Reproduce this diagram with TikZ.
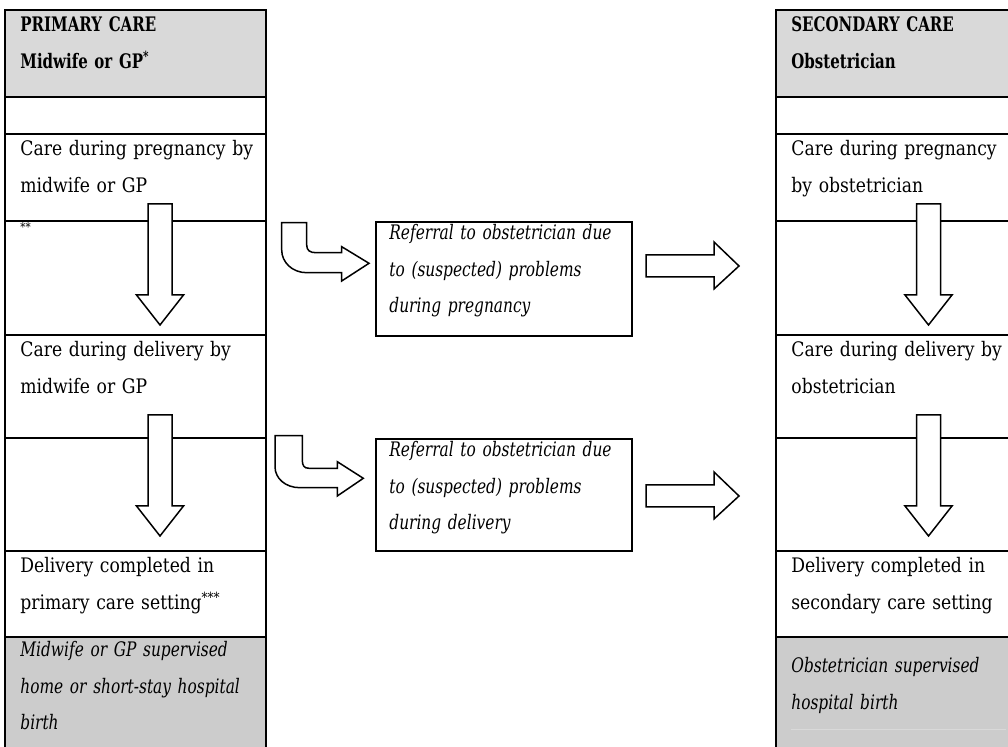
\documentclass[tikz,border=0pt]{standalone}
\usepackage{fontspec}
\setmainfont[FakeStretch=0.86]{DejaVu Serif}
\newfontfamily\headfont[FakeStretch=0.75]{DejaVu Serif}
\newfontfamily\notefont[FakeStretch=0.77]{DejaVu Serif}
\usetikzlibrary{positioning,calc}
\definecolor{headgray}{HTML}{D9D9D9}
\definecolor{footgray}{HTML}{CCCCCC}

\begin{document}
\begin{tikzpicture}[x=0.5pt,y=-0.5pt,
  cell/.style={anchor=base west, inner sep=0pt, text width=125pt, align=left, font=\fontsize{10}{18.5}\selectfont},
  headcell/.style={cell, font=\headfont\bfseries\fontsize{10}{18.5}\selectfont},
  notecell/.style={cell, font=\notefont\itshape\fontsize{10}{18.25}\selectfont},
  rule/.style={line width=1pt, line cap=rect},
  refbox/.style={draw, line width=1pt, inner sep=0pt, anchor=north west, minimum width=128pt},
  blockarrow/.style={draw, fill=white, line width=0.75pt, line join=miter}]
\useasboundingbox (0,0) rectangle (1008,747);
\clip (0,0) rectangle (1008,747);

%Tables
\fill[headgray] (5,10) rectangle (265.7,97);
\fill[footgray] (5,637) rectangle (265.7,760);
\fill[headgray] (776,10) rectangle (1020,97);
\fill[footgray] (776,637) rectangle (1020,760);
\draw[headgray, line width=0.4pt] (791,729) -- (1006,729);
\foreach \ry in {10,97,134,221,335,438,551,637} {
  \draw[rule] (5,\ry) -- (265.7,\ry);
  \draw[rule] (776,\ry) -- (1020,\ry);
}
\draw[rule] (5,10) -- (5,760) (265.7,10) -- (265.7,760) (776,10) -- (776,760);

%Down arrows
\foreach \cx/\ty in {160/204,160/415,928.5/204,928.5/415}
  \draw[blockarrow] (\cx-12,\ty) -- (\cx+12,\ty) -- (\cx+12,\ty+91) -- (\cx+23.5,\ty+91)
    -- (\cx,\ty+121) -- (\cx-23.5,\ty+91) -- (\cx-12,\ty+91) -- cycle;

%Referral boxes
\node[refbox, minimum height=57pt] (refpreg) at (375,221) {};
\node[refbox, minimum height=56pt] (refdeliv) at (375,438) {};
\node[notecell] (refpregtxt) at ($(refpreg.north west)+(14,19)$) {Referral to obstetrician due\\to (suspected) problems\\during pregnancy};
\node[notecell] (refdelivtxt) at ($(refdeliv.north west)+(14,19)$) {Referral to obstetrician due\\to (suspected) problems\\during delivery};

%Bent arrows
\draw[blockarrow] (281.7,222.7) -- (306.7,222.7) -- (306.7,245) .. controls (306.7,250.5) and (310,252.7) .. (316,252.7)
  -- (341.7,252.7) -- (341.7,246.7) -- (369,263.3) -- (341.7,281) -- (341.7,272.7) -- (306.7,272.7)
  .. controls (292,272.7) and (281.7,262) .. (281.7,250) -- cycle;
\draw[blockarrow] (275,435.7) -- (302.3,435.7) -- (302.3,460) .. controls (302.3,465.5) and (304,468.3) .. (309,468.3)
  -- (337.3,468.3) -- (337.3,461.7) -- (363.3,478.3) -- (337.3,496) -- (337.3,487.7) -- (300,487.7)
  .. controls (285,487.7) and (275,478) .. (275,466.7) -- cycle;

%Straight arrows
\foreach \ty in {255,485}
  \draw[blockarrow] (646,\ty) -- (714,\ty) -- (714,\ty-13) -- (739,\ty+11) -- (714,\ty+34)
    -- (714,\ty+22) -- (646,\ty+22) -- cycle;

%Primary care
\node[headcell] (primhead) at (20,32) {PRIMARY CARE\\Midwife or GP\textsuperscript{*}};
\node[cell] (primpreg) at (20,156) {Care during pregnancy by\\midwife or GP};
\node[anchor=north west, inner sep=0pt, font=\fontsize{6}{7}\selectfont] (primstars) at (20,222) {**};
\node[cell] (primdeliv) at (20,357) {Care during delivery by\\midwife or GP};
\node[cell] (primdone) at (20,573) {Delivery completed in\\primary care setting\textsuperscript{***}};
\node[notecell] (primbirth) at (20,657) {Midwife or GP supervised\\home or short-stay hospital\\birth};

%Secondary care
\node[headcell] (sechead) at (791,32) {SECONDARY CARE\\Obstetrician};
\node[cell] (secpreg) at (791,156) {Care during pregnancy\\by obstetrician};
\node[cell] (secdeliv) at (791,357) {Care during delivery by\\obstetrician};
\node[cell] (secdone) at (791,573) {Delivery completed in\\secondary care setting};
\node[notecell] (secbirth) at (791,673) {Obstetrician supervised\\hospital birth};

\end{tikzpicture}
\end{document}
